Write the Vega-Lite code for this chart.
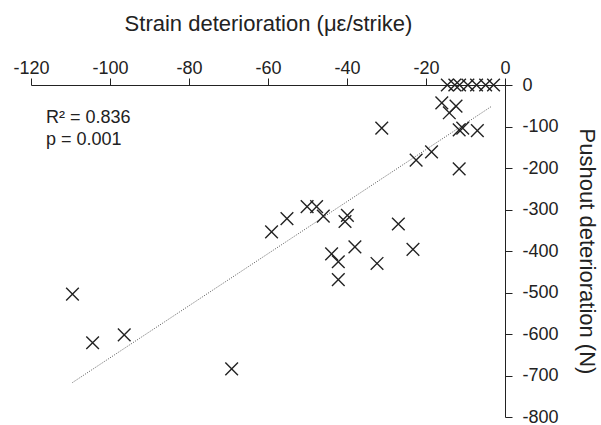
{
  "$schema": "https://vega.github.io/schema/vega-lite/v6.json",
  "width": 474,
  "height": 332,
  "autosize": {"type": "none"},
  "padding": {"left": 31, "top": 85, "right": 96, "bottom": 8},
  "background": "white",
  "config": {
    "view": {"stroke": null},
    "font": "Liberation Sans",
    "axis": {"grid": false, "domainColor": "#222", "tickColor": "#222", "labelColor": "#222", "titleColor": "#222", "labelFont": "Liberation Sans", "titleFont": "Liberation Sans", "titleFontWeight": "normal", "domainWidth": 1, "tickWidth": 1, "labelFlush": false, "labelOverlap": false}
  },
  "datasets": {
    "pts": [
      {"strain": -14.6, "pushout": 0}, {"strain": -12.7, "pushout": 0}, {"strain": -11.5, "pushout": 0},
      {"strain": -9.4, "pushout": 0}, {"strain": -7.2, "pushout": 0}, {"strain": -4.9, "pushout": 0},
      {"strain": -2.9, "pushout": 0},
      {"strain": -16.0, "pushout": -43}, {"strain": -12.4, "pushout": -51}, {"strain": -14.1, "pushout": -67},
      {"strain": -11.6, "pushout": -108}, {"strain": -10.7, "pushout": -104}, {"strain": -7.0, "pushout": -110},
      {"strain": -31.2, "pushout": -104},
      {"strain": -18.6, "pushout": -161}, {"strain": -22.5, "pushout": -181}, {"strain": -11.6, "pushout": -202},
      {"strain": -27.0, "pushout": -335}, {"strain": -23.3, "pushout": -396},
      {"strain": -59.1, "pushout": -354}, {"strain": -55.2, "pushout": -322}, {"strain": -50.1, "pushout": -293},
      {"strain": -47.7, "pushout": -293}, {"strain": -46.0, "pushout": -316}, {"strain": -39.9, "pushout": -314},
      {"strain": -40.5, "pushout": -329},
      {"strain": -43.9, "pushout": -407}, {"strain": -42.2, "pushout": -426}, {"strain": -38.0, "pushout": -390},
      {"strain": -32.4, "pushout": -430}, {"strain": -42.2, "pushout": -469},
      {"strain": -109.5, "pushout": -504}, {"strain": -104.4, "pushout": -621}, {"strain": -96.4, "pushout": -602},
      {"strain": -69.2, "pushout": -684}
    ],
    "fit": [
      {"strain": -109.5, "pushout": -717},
      {"strain": -3.5, "pushout": -52}
    ],
    "notes": [
      {"strain": -116.2, "pushout": -92, "label": "R² = 0.836"},
      {"strain": -116.2, "pushout": -145, "label": "p = 0.001"}
    ]
  },
  "layer": [
    {
      "data": {"name": "fit"},
      "mark": {"type": "line", "color": "#555", "strokeWidth": 1, "strokeDash": [1, 1.5]},
      "encoding": {
        "x": {"field": "strain", "type": "quantitative", "scale": {"domain": [-120, 0], "nice": false, "zero": false},
              "axis": {"orient": "top", "title": "Strain deterioration (με/strike)", "values": [-120, -100, -80, -60, -40, -20, 0], "labelExpr": "replace(datum.label, '−', '-')", "labelFontSize": 18, "titleFontSize": 22, "tickSize": 7, "labelPadding": 1, "titlePadding": 24}},
        "y": {"field": "pushout", "type": "quantitative", "scale": {"domain": [-800, 0], "nice": false, "zero": false},
              "axis": {"orient": "right", "title": "Pushout deterioration (N)", "values": [0, -100, -200, -300, -400, -500, -600, -700, -800], "labelExpr": "replace(datum.label, '−', '-')", "labelFontSize": 18, "titleFontSize": 22, "tickSize": 7, "labelPadding": 10, "titlePadding": 16}}
      }
    },
    {
      "data": {"name": "pts"},
      "mark": {"type": "point", "shape": "M-1,-1L1,1M1,-1L-1,1", "size": 160, "filled": false, "stroke": "#222", "strokeWidth": 1.4, "opacity": 1},
      "encoding": {
        "x": {"field": "strain", "type": "quantitative"},
        "y": {"field": "pushout", "type": "quantitative"}
      }
    },
    {
      "data": {"name": "notes"},
      "mark": {"type": "text", "align": "left", "baseline": "alphabetic", "fontSize": 18, "color": "#222"},
      "encoding": {
        "x": {"field": "strain", "type": "quantitative"},
        "y": {"field": "pushout", "type": "quantitative"},
        "text": {"field": "label"}
      }
    }
  ]
}
